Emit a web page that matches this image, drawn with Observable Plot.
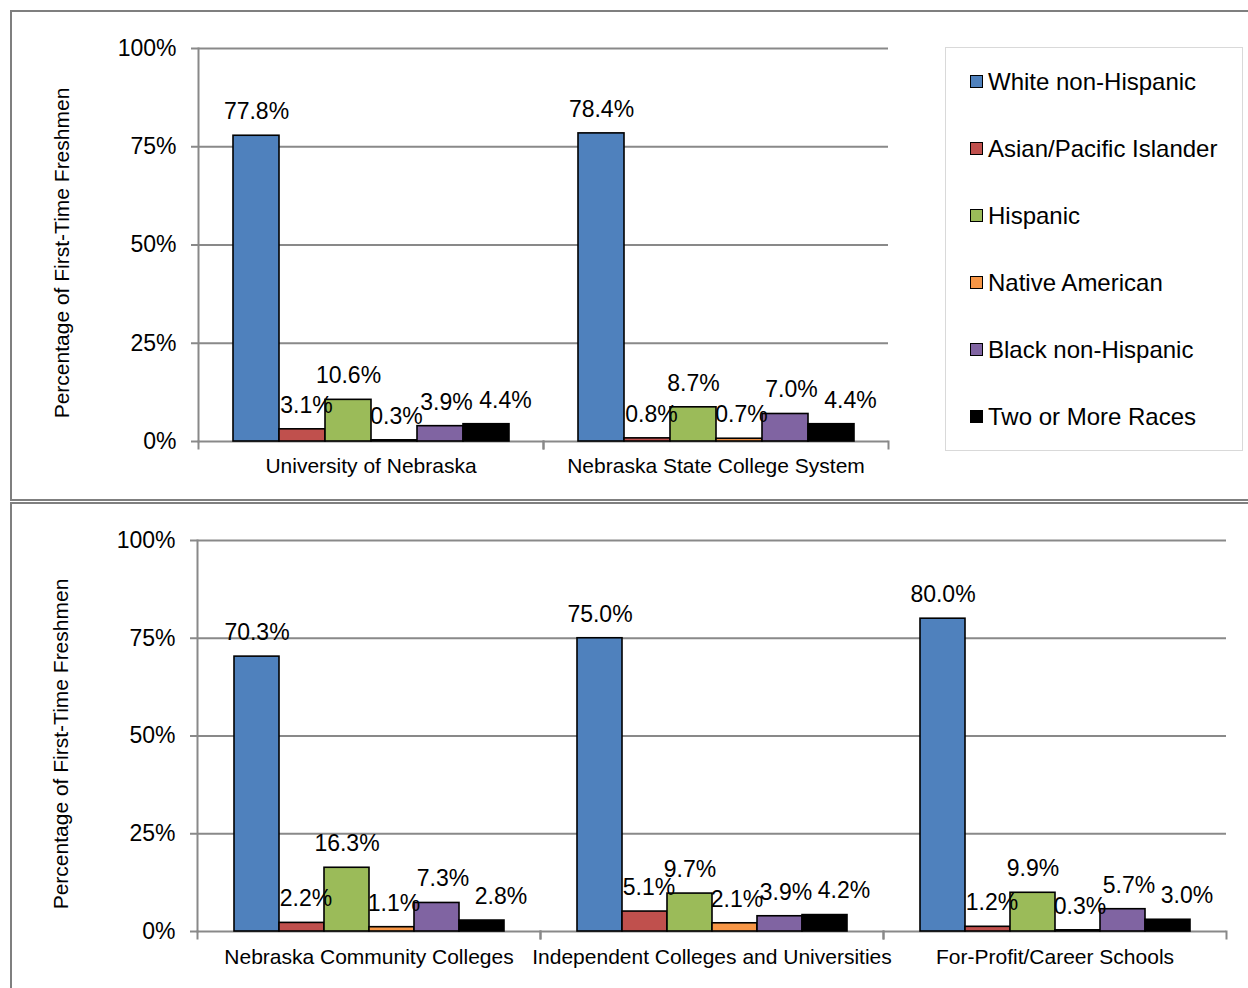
<!DOCTYPE html>
<html><head><meta charset="utf-8">
<script src="https://cdn.jsdelivr.net/npm/d3@7"></script>
<script src="https://cdn.jsdelivr.net/npm/@observablehq/plot@0.6"></script>
<style>
body{margin:0;background:#fff;font-family:"Liberation Sans",Arial,sans-serif;}
#page{position:relative;width:1248px;height:988px;overflow:hidden;background:#fff;}
.box{position:absolute;border:2px solid #7f7f7f;box-sizing:border-box;}
.panel{position:absolute;left:0;}
#legend{position:absolute;left:945px;top:47px;width:298px;height:404px;border:1.5px solid #d9d9d9;box-sizing:border-box;padding-left:24px;background:#fff;}
.item{height:67px;display:flex;align-items:center;font-size:24px;color:#000;}
.sw{width:11px;height:11px;border:1px solid #000;margin-right:5px;flex:none;}
</style></head><body><div id="page">
<div class="box" style="left:10px;top:10px;width:1300px;height:491px"></div>
<div class="box" style="left:10px;top:502px;width:1300px;height:600px"></div>
<div class="panel" id="top" style="top:0px"></div>
<div class="panel" id="bottom" style="top:492px"></div>
<div id="legend"></div>
</div>
<script>
const races = ["White non-Hispanic","Asian/Pacific Islander","Hispanic","Native American","Black non-Hispanic","Two or More Races"];
const colors = ["#4F81BD","#C0504D","#9BBB59","#F79646","#8064A2","#000000"];
const topCats = ["University of Nebraska","Nebraska State College System"];
const bottomCats = ["Nebraska Community Colleges","Independent Colleges and Universities","For-Profit/Career Schools"];
const allCats = topCats.concat(bottomCats);
const whiteNonHispanic = [77.8, 78.4, 70.3, 75.0, 80.0];
const asianPacific     = [3.1, 0.8, 2.2, 5.1, 1.2];
const hispanic         = [10.6, 8.7, 16.3, 9.7, 9.9];
const nativeAmerican   = [0.3, 0.7, 1.1, 2.1, 0.3];
const blackNonHispanic = [3.9, 7.0, 7.3, 3.9, 5.7];
const twoOrMore        = [4.4, 4.4, 2.8, 4.2, 3.0];
const yTicks = [0, 25, 50, 75, 100];
const yLabel = "Percentage of First-Time Freshmen";

const series = [whiteNonHispanic, asianPacific, hispanic, nativeAmerican, blackNonHispanic, twoOrMore];
const rows = [];
allCats.forEach((c, ci) => races.forEach((r, ri) => rows.push({cat: c, race: r, value: series[ri][ci]})));

// label nudges (style, per series), mimicking the original label placement
const labelNudge = [0, 4, 0, 2, 6, 19];

const grid = "#898989";
function panel(cats, width, height, marginBottom, fxPad, bandW) {
  const marginTop = 48, marginLeft = 197, marginRight = width - (marginLeft + cats.length * bandW);
  const innerH = height - marginTop - marginBottom;
  const data = rows.filter(d => cats.includes(d.cat));
  const labelMarks = races.map((r, i) =>
    Plot.text(data.filter(d => d.race === r), {fx: "cat", x: "race", y: "value", text: d => d.value.toFixed(1) + "%", dx: labelNudge[i], dy: -24, lineAnchor: "middle", fontSize: 23, fill: "#000"}));
  return Plot.plot({
    width, height, marginTop, marginBottom, marginLeft, marginRight,
    style: {fontFamily: "Liberation Sans, Arial, sans-serif", background: "transparent", color: "#000", overflow: "visible"},
    fx: {domain: cats, padding: 0, label: null},
    x: {domain: races, paddingInner: 0, paddingOuter: 0.75, axis: null},
    y: {domain: [0, 100], label: null},
    color: {domain: races, range: colors},
    marks: [
      Plot.gridY(yTicks, {stroke: grid, strokeOpacity: 1, strokeWidth: 2}),
      Plot.axisY(yTicks, {tickSize: 7, tickPadding: 15, stroke: grid, strokeWidth: 2, tickFormat: d => d + "%", fontSize: 23, label: null, facetAnchor: "left"}),
      Plot.frame({anchor: "left", facetAnchor: "left", stroke: grid, strokeWidth: 2}),
      Plot.frame({anchor: "left", insetTop: innerH, insetBottom: -7, stroke: grid, strokeWidth: 2}),
      Plot.frame({anchor: "right", insetTop: innerH, insetBottom: -7, stroke: grid, strokeWidth: 2}),
      Plot.text([yLabel], {frameAnchor: "left", textAnchor: "middle", lineAnchor: "middle", rotate: -90, dx: -136, dy: 8, fontSize: 21, facetAnchor: "left"}),
      Plot.barY(data, {fx: "cat", x: "race", y: "value", fill: "race", stroke: "#000", strokeWidth: 1.6}),
      ...labelMarks,
      Plot.axisFx({anchor: "bottom", tickSize: 0, tickPadding: fxPad, fontSize: 21, label: null})
    ]
  });
}
document.getElementById("top").appendChild(panel(topCats, 900, 500, 59, 17, 345.5));
document.getElementById("bottom").appendChild(panel(bottomCats, 1240, 496, 57, 18, 343.3));

const leg = document.getElementById("legend");
races.forEach((r, i) => {
  const it = document.createElement("div"); it.className = "item";
  const sw = document.createElement("span"); sw.className = "sw"; sw.style.background = colors[i];
  const tx = document.createElement("span"); tx.textContent = r;
  it.appendChild(sw); it.appendChild(tx); leg.appendChild(it);
});
</script></body></html>
